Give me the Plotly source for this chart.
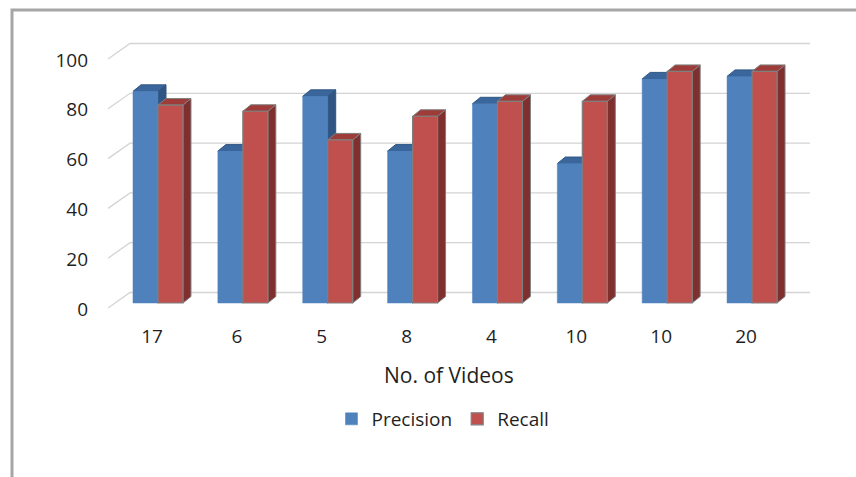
import plotly.graph_objects as go

categories = ["17", "6", "5", "8", "4", "10", "10", "20"]
precision = [85, 61, 83, 61, 80, 56, 90, 91]
recall = [79.5, 77, 65.5, 75, 81, 81, 93, 93]
y_ticks = [0, 20, 40, 60, 80, 100]

W, H = 856, 477
L, R, T, B = 108, 810, 30, 320
pw, ph = R - L, B - T
xmin, xmax = -0.589, 7.683
ppx = pw / (xmax - xmin)
ppy = 2.49
ymin = -(B - 303) / ppy
ymax = (303 - T) / ppy

FONT = "Open Sans"
TXT = "#1F1F1F"
blue, blue_top, blue_side = "#4F81BD", "#3A669C", "#2F5583"
red, red_top, red_side = "#C0504D", "#9E3C39", "#7F2F2D"
grey = "#7F7F7F"

bargap = 0.411
bw = (1 - bargap) / 2
DX, DY = 8 / ppx, 6.5 / ppy          # bar depth
BACKX, BACKY = 22 / ppx, 10.5 / ppy  # back wall offset
FRONTY = -5 / ppy                   # front edge offset

xs = list(range(len(categories)))
fig = go.Figure()
fig.add_trace(go.Bar(x=xs, y=precision, name="Precision", marker=dict(color=blue, line=dict(color=blue, width=0.5))))
fig.add_trace(go.Bar(x=xs, y=recall, name="Recall", marker=dict(color=red, line=dict(color=grey, width=1.2))))

shapes = []
# back wall gridlines + left wall diagonals
for v in y_ticks:
    shapes.append(dict(type="path", xref="x", yref="y", layer="between",
                       path=f"M{xmin},{v + FRONTY} L{xmin + BACKX},{v + BACKY} L{xmax},{v + BACKY}",
                       line=dict(color="#D4D4D4", width=1.3)))

def faces(x0, v, top_c, side_c, edge):
    x1 = x0 + bw
    top = f"M{x0},{v} L{x1},{v} L{x1 + DX},{v + DY} L{x0 + DX},{v + DY} Z"
    side = f"M{x1},{v} L{x1 + DX},{v + DY} L{x1 + DX},{DY} L{x1},0 Z"
    return [dict(type="path", xref="x", yref="y", layer="between", path=side,
                 fillcolor=side_c, line=dict(color=edge, width=1)),
            dict(type="path", xref="x", yref="y", layer="between", path=top,
                 fillcolor=top_c, line=dict(color=edge, width=1))]

for i in xs:
    shapes += faces(i - bw, precision[i], blue_top, blue_side, blue_side)
for i in xs:
    shapes += faces(i, recall[i], red_top, red_side, grey)

# outer frame
shapes.append(dict(type="rect", xref="paper", yref="paper", layer="above",
                   x0=(12 - L) / pw, x1=(W + 20 - L) / pw,
                   y0=-(H + 20 - B) / ph, y1=1 + (T - 10) / ph,
                   line=dict(color="#A6A6A6", width=3), fillcolor="rgba(0,0,0,0)"))

fig.update_layout(
    width=W, height=H,
    margin=dict(l=L, r=W - R, t=T, b=H - B),
    paper_bgcolor="white", plot_bgcolor="white",
    barmode="group", bargap=bargap, bargroupgap=0,
    font=dict(family=FONT, size=19, color=TXT),
    shapes=shapes,
    showlegend=True,
    legend=dict(orientation="h", x=(443 - L) / pw, xanchor="center",
                y=(B - 419) / ph, yanchor="middle",
                font=dict(family=FONT, size=19, color=TXT),
                itemwidth=30, tracegroupgap=0),
    annotations=[dict(text="No. of Videos", xref="paper", yref="paper",
                      x=(449 - L) / pw, y=(B - 375) / ph, showarrow=False,
                      xanchor="center", yanchor="middle",
                      font=dict(family=FONT, size=21, color=TXT))],
)
fig.update_xaxes(range=[xmin, xmax], tickmode="array", tickvals=xs, ticktext=categories,
                 showgrid=False, zeroline=False, showline=False, ticks="",
                 ticklabelshift=-6, ticklabelstandoff=3)
fig.update_yaxes(range=[ymin, ymax], tickmode="array", tickvals=y_ticks,
                 showgrid=False, zeroline=False, showline=False, ticks="",
                 ticklabelshift=6, ticklabelstandoff=19)

fig.write_html("out.html")
